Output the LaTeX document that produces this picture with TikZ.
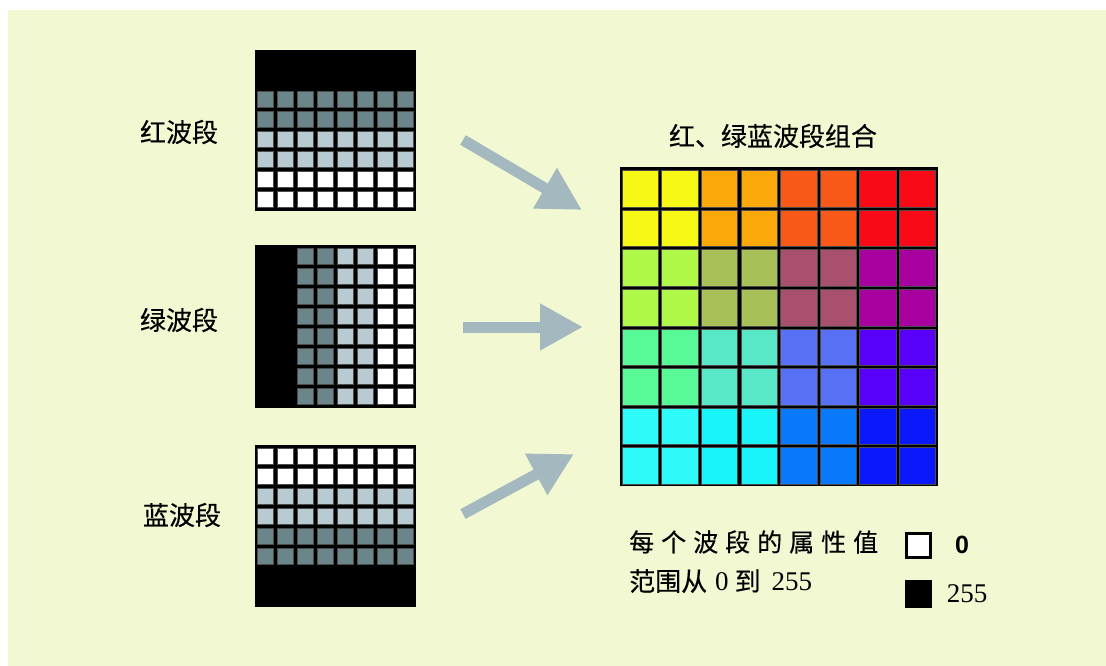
\documentclass[tikz,border=0pt]{standalone}
\usepackage{fontspec}
\setmainfont{Liberation Serif}
\newfontfamily\cjk{Noto Sans CJK SC}[FakeBold=0.35]
\newfontfamily\sansf{Liberation Sans}
\usetikzlibrary{arrows.meta}
\definecolor{bg}{RGB}{241,248,210}
\definecolor{darkg}{RGB}{106,134,138}
\definecolor{lightg}{RGB}{185,203,210}
\definecolor{arrowc}{RGB}{164,184,192}
\definecolor{c00}{HTML}{F8F816}\definecolor{c01}{HTML}{FAA80A}\definecolor{c02}{HTML}{F85818}\definecolor{c03}{HTML}{FA0A16}
\definecolor{c10}{HTML}{B0F848}\definecolor{c11}{HTML}{A8C058}\definecolor{c12}{HTML}{A8506E}\definecolor{c13}{HTML}{A800A0}
\definecolor{c20}{HTML}{58FA98}\definecolor{c21}{HTML}{58E8C8}\definecolor{c22}{HTML}{5870F4}\definecolor{c23}{HTML}{5800FA}
\definecolor{c30}{HTML}{2EFAFA}\definecolor{c31}{HTML}{18F4FA}\definecolor{c32}{HTML}{0A78FA}\definecolor{c33}{HTML}{0A18FA}
\tikzset{
  bandlabel/.style={font=\cjk\fontsize{26}{30}\selectfont, inner sep=0pt},
  bigarrow/.style={draw=arrowc, line width=11pt, -{Triangle[length=43pt,width=44pt]}},
  cellframe/.style={draw=black!70, line width=0.6pt},
}
\begin{document}
\begin{tikzpicture}[x=1pt,y=-1pt]
\useasboundingbox (0,0) rectangle (1106,666);
\fill[white] (0,0) rectangle (1106,666);
\fill[bg] (8,10) rectangle (1106,666);

% red band
\fill[black] (255,50) rectangle (416,211);
\foreach \i in {0,...,7}{
  \foreach \j/\c in {2/darkg,3/darkg,4/lightg,5/lightg,6/white,7/white}{
    \filldraw[fill=\c,cellframe] ({257.5+20*\i},{51.5+20*\j}) rectangle ++(16,16);
  }
}
% green band
\fill[black] (255,245) rectangle (416,408);
\foreach \j in {0,...,7}{
  \foreach \i/\c in {2/darkg,3/darkg,4/lightg,5/lightg,6/white,7/white}{
    \filldraw[fill=\c,cellframe] ({257.5+20*\i},{248.5+20*\j}) rectangle ++(16,16);
  }
}
% blue band
\fill[black] (255,445) rectangle (416,607);
\foreach \i in {0,...,7}{
  \foreach \j/\c in {0/white,1/white,2/lightg,3/lightg,4/darkg,5/darkg}{
    \filldraw[fill=\c,cellframe] ({257.5+20*\i},{448+20*\j}) rectangle ++(16,16);
  }
}
% combined grid
\fill[black] (620,167) rectangle (938,486);
\foreach \i in {0,...,7}{
  \foreach \j in {0,...,7}{
    \pgfmathtruncatemacro{\rr}{int(\j/2)}
    \pgfmathtruncatemacro{\cc}{int(\i/2)}
    \filldraw[fill=c\rr\cc,cellframe] ({622+39.6*\i},{170.5+39.6*\j}) rectangle ++(36.5,36.5);
  }
}

% labels
\node[bandlabel] (lr) at (179,132) {红波段};
\node[bandlabel] (lg) at (179,320) {绿波段};
\node[bandlabel] (lb) at (182,515) {蓝波段};
\node[bandlabel] (title) at (773,136) {红、绿蓝波段组合};

% arrows
\coordinate (a1s) at (463,140); \coordinate (a1e) at (582,210);
\coordinate (a2s) at (463,327); \coordinate (a2e) at (583,327);
\coordinate (a3s) at (463,514); \coordinate (a3e) at (574,454);
\draw[bigarrow] (a1s) -- (a1e);
\draw[bigarrow] (a2s) -- (a2e);
\draw[bigarrow] (a3s) -- (a3e);

% legend text
\node[anchor=west, inner sep=0pt, font=\cjk\fontsize{25}{30}\selectfont] (leg1) at (629,542)
  {每\kern7pt 个\kern7pt 波\kern7pt 段\kern7pt 的\kern7pt 属\kern7pt 性\kern7pt 值};
\node[anchor=west, inner sep=0pt] (leg2) at (629,581)
  {{\cjk\fontsize{26}{30}\selectfont 范围从}\kern8pt{\fontsize{27}{30}\selectfont 0}\kern6pt{\cjk\fontsize{26}{30}\selectfont 到}\kern11pt{\fontsize{27}{30}\selectfont 255}};

% legend keys
\filldraw[fill=white, draw=black, line width=3pt] (906.5,533.5) rectangle (930.5,557.5);
\node[inner sep=0pt, font=\sansf\bfseries\fontsize{25}{28}\selectfont] (k0) at (962,545) {0};
\fill[black] (905,580) rectangle (932,608);
\node[inner sep=0pt, font=\fontsize{27}{30}\selectfont] (k255) at (967,594) {255};
\end{tikzpicture}
\end{document}
